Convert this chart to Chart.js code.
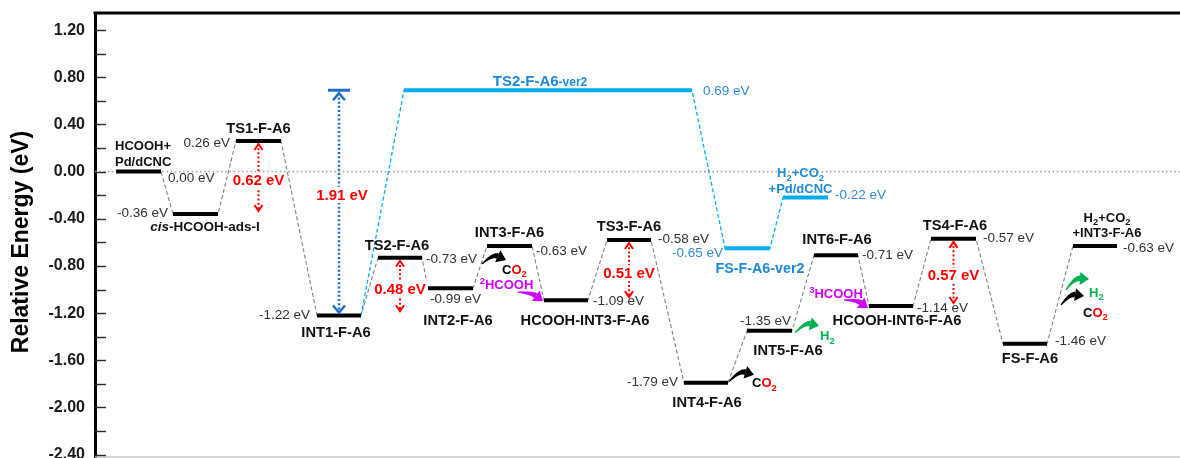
<!DOCTYPE html>
<html>
<head>
<meta charset="utf-8">
<script src="https://cdn.jsdelivr.net/npm/chart.js@4/dist/chart.umd.min.js"></script>
<style>
  html, body { margin: 0; padding: 0; background: #fff; }
  #wrap { width: 1180px; height: 458px; position: relative; }
</style>
</head>
<body>
<div id="wrap"><canvas id="chart"></canvas></div>
<script>
// ---- Reaction path on Pd/dCNC (relative energies in eV) ----
// Markup in names: _x subscript, ^x superscript, *..* italic, {..} smaller text, \n new line
const mainNames = [
  'HCOOH+\nPd/dCNC', '*cis*-HCOOH-ads-I', 'TS1-F-A6', 'INT1-F-A6', 'TS2-F-A6', 'INT2-F-A6',
  'INT3-F-A6', 'HCOOH-INT3-F-A6', 'TS3-F-A6', 'INT4-F-A6', 'INT5-F-A6', 'INT6-F-A6',
  'HCOOH-INT6-F-A6', 'TS4-F-A6', 'FS-F-A6', 'H_2+CO_2\n+INT3-F-A6'
];
const mainEnergies = [0.00, -0.36, 0.26, -1.22, -0.73, -0.99, -0.63, -1.09, -0.58, -1.79, -1.35, -0.71, -1.14, -0.57, -1.46, -0.63];
// span of each level along the reaction coordinate
const mainStart = [2.1, 7.8, 14.1, 22.2, 28.3, 33.3, 39.2, 44.9, 51.2, 58.9, 65.2, 71.9, 77.4, 83.6, 90.8, 97.8];
const mainEnd   = [6.6, 12.3, 18.6, 26.6, 32.7, 37.8, 43.7, 49.3, 55.6, 63.3, 69.7, 76.3, 81.8, 88.1, 95.2, 102.2];

// Alternative branch leaving INT1-F-A6
const altNames = ['TS2-F-A6{-ver2}', 'FS-F-A6-ver2', 'H_2+CO_2\n+Pd/dCNC'];
const altEnergies = [0.69, -0.65, -0.22];
const altStart = [30.9, 63.0, 68.8];
const altEnd   = [59.7, 67.5, 73.3];
const altBranchFrom = 3;

// Barriers: level the barrier hangs from, and its height (eV)
const barrierLevels = [2, 4, 8, 13];
const barrierValues = [0.62, 0.48, 0.51, 0.57];
const altBarrierLevel = 3;     // measured at INT1-F-A6 up to TS2-F-A6-ver2
const altBarrierValue = 1.91;

const yMajorTicks = [1.2, 0.8, 0.4, 0.0, -0.4, -0.8, -1.2, -1.6, -2.0, -2.4];
const yMinorTicks = [1.0, 0.6, 0.2, -0.2, -0.6, -1.0, -1.4, -1.8, -2.2];

// ---- Layout of labels around each level (pixel offsets) ----
// name: [align ('c' centre of level / 'l' from level start), dx, dy]
// energy: [side ('before' ends at start / 'after' starts at end / 'under' starts at start), dx, dy]
const mainNameLayout = [
  ['l', -1, -26], ['c', 9.5, 12], ['c', 0, -13], ['c', -3, 16], ['c', -3, -13], ['c', 7.5, 31.7],
  ['c', 0, -14], ['c', 19, 20], ['c', 0, -14], ['c', 1, 19], ['c', 18.5, 19], ['c', 1, -17],
  ['c', 6, 14], ['c', 1.5, -14], ['c', 5, 14], ['c', 12, -29]
];
const mainEnergyLayout = [
  ['after', 7, 6.6], ['before', -5, -1], ['before', -6, 2], ['before', -7, 0], ['after', 4, 2], ['under', 2, 11],
  ['after', 4, 5.7], ['after', 5, 0.7], ['after', 7, -0.7], ['before', -6, 0], ['under', -7, -9.3], ['after', 4, 0],
  ['after', 4, 2], ['after', 7, -1], ['after', 8, -2.7], ['after', 6, 2.3]
];
const mainNameSize = [13, 13.5, 14.7, 14.7, 14.7, 14.7, 14.7, 14.7, 14.7, 14.7, 14.7, 14.7, 14.7, 14.7, 14.7, 13];
const altNameLayout = [['c', -8, -10], ['c', 12.5, 20], ['c', -5, -25]];
const altEnergyLayout = [['after', 11, 1], ['before', -2, 4.7], ['after', 7, -2.7]];
const altNameSize = [15, 14.3, 13];

// Released / re-adsorbed species with curved arrows, anchored to a level end
const speciesMarks = [
  { level: 6,  at: 'start', formula: 'CO2',    color: '#000',    tail: [-5, 18], tip: [19, 14], bend: 8, text: [15, 23],  align: 'left' },
  { level: 7,  at: 'start', formula: '2HCOOH', color: '#cc00ff', tail: [-26, -8], tip: [-1, 1], bend: 4, text: [-37.5, -16], align: 'center' },
  { level: 9,  at: 'end',   formula: 'CO2',    color: '#000',    tail: [1, -1],  tip: [26, -8], bend: 8, text: [24, 0],   align: 'left' },
  { level: 10, at: 'end',   formula: 'H2',     color: '#00b050', tail: [3, 2],   tip: [27, -5], bend: 7, text: [28, 5],   align: 'left' },
  { level: 12, at: 'start', formula: '3HCOOH', color: '#cc00ff', tail: [-25, -6], tip: [-1, 2], bend: 4, text: [-33, -13], align: 'center' },
  { level: 15, at: 'start', formula: 'H2',     color: '#00b050', tail: [-7, 44], tip: [16, 33], bend: 7, text: [16, 46],  align: 'left' },
  { level: 15, at: 'start', formula: 'CO2',    color: '#000',    tail: [-12, 59], tip: [11, 50], bend: 7, text: [10, 66], align: 'left' }
];

const FONT = '"Liberation Sans", Arial, Helvetica, sans-serif';
const COL = {
  level: '#000000', connector: '#7f7f7f', alt: '#00aeef', altText: '#1e88d3', altEnergy: '#3389cf',
  energy: '#303030', red: '#ff0000', magenta: '#cc00ff', green: '#00b050', gapBlue: '#1f6fc4', zero: '#a8a8a8'
};

// ---- Datasets ----
function levelPoints(starts, ends, energies) {
  const pts = [];
  energies.forEach((e, i) => { pts.push({ x: starts[i], y: e }, { x: ends[i], y: e }, { x: ends[i], y: null }); });
  return pts;
}
function pathPoints(starts, ends, energies) {
  return energies.flatMap((e, i) => [{ x: starts[i], y: e }, { x: ends[i], y: e }]);
}
const altPath = [{ x: mainEnd[altBranchFrom], y: mainEnergies[altBranchFrom] }].concat(pathPoints(altStart, altEnd, altEnergies));

// ---- Text helpers ----
function parseRich(str) {
  const parts = [];
  let italic = false, small = false;
  for (let i = 0; i < str.length; i++) {
    const ch = str[i];
    if (ch === '*') { italic = !italic; continue; }
    if (ch === '{') { small = true; continue; }
    if (ch === '}') { small = false; continue; }
    if (ch === '_' || ch === '^') {
      parts.push({ t: str[i + 1], sub: ch === '_', sup: ch === '^', italic, small });
      i++; continue;
    }
    const last = parts[parts.length - 1];
    if (last && !last.sub && !last.sup && last.italic === italic && last.small === small) last.t += ch;
    else parts.push({ t: ch, italic, small });
  }
  return parts;
}
function drawRich(ctx, parts, x, y, size, align, color, weight) {
  weight = weight || 'bold';
  const fontFor = p => {
    let s = size;
    if (p.small) s = size * 0.8;
    if (p.sub || p.sup) s = size * 0.72;
    return (p.italic ? 'italic ' : '') + weight + ' ' + s + 'px ' + FONT;
  };
  let w = 0;
  parts.forEach(p => { ctx.font = fontFor(p); p.w = ctx.measureText(p.t).width; w += p.w; });
  let cx = align === 'center' ? x - w / 2 : align === 'right' ? x - w : x;
  const base = y + size * 0.36;
  ctx.textAlign = 'left';
  ctx.textBaseline = 'alphabetic';
  parts.forEach(p => {
    ctx.font = fontFor(p);
    ctx.fillStyle = p.c || color;
    let dy = 0;
    if (p.sub) dy = size * 0.26;
    if (p.sup) dy = -size * 0.38;
    ctx.fillText(p.t, cx, base + dy);
    cx += p.w;
  });
  return w;
}
function formulaParts(f, color) {
  if (f === 'CO2') return [{ t: 'C', c: '#000' }, { t: 'O', c: COL.red }, { t: '2', sub: true, c: COL.red }];
  if (f === 'H2') return [{ t: 'H', c: color }, { t: '2', sub: true, c: color }];
  return [{ t: f[0], sup: true, c: color }, { t: f.slice(1), c: color }];
}

// ---- Mark helpers ----
function curvedArrow(ctx, tx, ty, hx, hy, bend, color) {
  const vx = hx - tx, vy = hy - ty, len = Math.hypot(vx, vy);
  const nx = vy / len, ny = -vx / len;
  const cx = (tx + hx) / 2 + nx * bend, cy = (ty + hy) / 2 + ny * bend;
  let dx = hx - cx, dy = hy - cy;
  const dl = Math.hypot(dx, dy); dx /= dl; dy /= dl;
  const headLen = 9, headHalf = 6.5;
  const neckX = hx - dx * headLen, neckY = hy - dy * headLen;
  const N = 24, left = [], right = [];
  for (let i = 0; i <= N; i++) {
    const t = i / N, a = (1 - t) * (1 - t), b = 2 * (1 - t) * t, c = t * t;
    const px = a * tx + b * cx + c * neckX, py = a * ty + b * cy + c * neckY;
    const gx = 2 * (1 - t) * (cx - tx) + 2 * t * (neckX - cx);
    const gy = 2 * (1 - t) * (cy - ty) + 2 * t * (neckY - cy);
    const gl = Math.hypot(gx, gy) || 1;
    const w = 0.6 + 2.4 * t;
    const ox = -gy / gl * w, oy = gx / gl * w;
    left.push([px + ox, py + oy]); right.push([px - ox, py - oy]);
  }
  ctx.fillStyle = color;
  ctx.beginPath();
  left.forEach((p, i) => i ? ctx.lineTo(p[0], p[1]) : ctx.moveTo(p[0], p[1]));
  for (let i = right.length - 1; i >= 0; i--) ctx.lineTo(right[i][0], right[i][1]);
  ctx.closePath(); ctx.fill();
  ctx.beginPath();
  ctx.moveTo(hx, hy);
  ctx.lineTo(neckX - dy * headHalf, neckY + dx * headHalf);
  ctx.lineTo(neckX + dy * headHalf, neckY - dx * headHalf);
  ctx.closePath(); ctx.fill();
}
function chevron(ctx, x, y, dir, half, h) {
  // dir -1: pointing up, +1: pointing down; (x, y) is the tip
  ctx.beginPath();
  ctx.moveTo(x - half, y - dir * h);
  ctx.lineTo(x, y);
  ctx.lineTo(x + half, y - dir * h);
  ctx.stroke();
}
function gapArrow(ctx, x, yTop, yBot, color, cap) {
  ctx.save();
  ctx.strokeStyle = color;
  ctx.lineWidth = cap ? 2.5 : 2;
  ctx.setLineDash([2, 2.2]);
  ctx.beginPath(); ctx.moveTo(x, yTop + 3); ctx.lineTo(x, yBot - 3); ctx.stroke();
  ctx.setLineDash([]);
  ctx.lineJoin = 'miter';
  if (cap) {
    ctx.lineWidth = 3;
    ctx.beginPath(); ctx.moveTo(x - 11, yTop); ctx.lineTo(x + 11, yTop); ctx.stroke();
    ctx.lineWidth = 2.5;
    chevron(ctx, x, yTop + 3, -1, 6, 7);
    chevron(ctx, x, yBot - 3, 1, 6, 7);
  } else {
    chevron(ctx, x, yTop + 3, -1, 4, 6);
    chevron(ctx, x, yBot - 3, 1, 4, 6);
  }
  ctx.restore();
}
function gapLabel(ctx, text, x, y, color) {
  ctx.font = 'bold 15px ' + FONT;
  const w = ctx.measureText(text).width;
  ctx.fillStyle = '#fff';
  ctx.fillRect(x - w / 2 - 2, y - 8, w + 4, 16);
  ctx.fillStyle = color;
  ctx.textAlign = 'center';
  ctx.textBaseline = 'middle';
  ctx.fillText(text, x, y + 0.5);
}

// ---- Plugin drawing annotations, frame and ticks ----
const diagramPlugin = {
  id: 'diagram',
  beforeDatasetsDraw(chart) {
    const { ctx, chartArea: a, scales: { y } } = chart;
    const y0 = y.getPixelForValue(0);
    ctx.save();
    ctx.strokeStyle = COL.zero;
    ctx.lineWidth = 1.6;
    ctx.setLineDash([1.6, 2.6]);
    ctx.beginPath(); ctx.moveTo(a.left, y0); ctx.lineTo(a.right, y0); ctx.stroke();
    ctx.restore();
  },
  afterDatasetsDraw(chart) {
    const { ctx, chartArea: a, scales: { x, y } } = chart;
    ctx.save();

    // frame: top rule and light bottom rule
    ctx.strokeStyle = '#000'; ctx.lineWidth = 3;
    ctx.beginPath(); ctx.moveTo(a.left - 1.5, a.top); ctx.lineTo(a.right, a.top); ctx.stroke();
    ctx.strokeStyle = '#c8c8c8'; ctx.lineWidth = 1.5;
    ctx.beginPath(); ctx.moveTo(a.left, a.bottom); ctx.lineTo(a.right, a.bottom); ctx.stroke();

    // inward tick marks
    ctx.strokeStyle = '#2a2a2a'; ctx.lineWidth = 1.4;
    yMajorTicks.concat(yMinorTicks).forEach(v => {
      const py = Math.round(y.getPixelForValue(v)) + 0.5;
      ctx.beginPath(); ctx.moveTo(a.left, py); ctx.lineTo(a.left + 11, py); ctx.stroke();
    });

    // axis title
    ctx.save();
    ctx.translate(22, 242);
    ctx.rotate(-Math.PI / 2);
    ctx.font = 'bold 23px ' + FONT;
    ctx.fillStyle = '#000';
    ctx.textAlign = 'center'; ctx.textBaseline = 'middle';
    ctx.fillText('Relative Energy (eV)', 0, 0);
    ctx.restore();

    const geom = (starts, ends, energies, i) => ({
      x0: x.getPixelForValue(starts[i]), x1: x.getPixelForValue(ends[i]),
      xc: (x.getPixelForValue(starts[i]) + x.getPixelForValue(ends[i])) / 2,
      y: y.getPixelForValue(energies[i])
    });

    function labelLevels(names, starts, ends, energies, nameLayout, energyLayout, sizes, nameColor, energyColor) {
      names.forEach((name, i) => {
        const g = geom(starts, ends, energies, i);
        const [al, ndx, ndy] = nameLayout[i];
        const lines = name.split('\n');
        lines.forEach((ln, k) => {
          const px = al === 'l' ? g.x0 + ndx : g.xc + ndx;
          drawRich(ctx, parseRich(ln), px, g.y + ndy + k * 15.5, sizes[i], al === 'l' ? 'left' : 'center', nameColor);
        });
        const [side, edx, edy] = energyLayout[i];
        const txt = energies[i].toFixed(2) + ' eV';
        ctx.font = '13.5px ' + FONT;
        ctx.fillStyle = energyColor;
        ctx.textBaseline = 'middle';
        if (side === 'before') { ctx.textAlign = 'right'; ctx.fillText(txt, g.x0 + edx, g.y + edy); }
        else if (side === 'after') { ctx.textAlign = 'left'; ctx.fillText(txt, g.x1 + edx, g.y + edy); }
        else { ctx.textAlign = 'left'; ctx.fillText(txt, g.x0 + edx, g.y + edy); }
      });
    }
    labelLevels(mainNames, mainStart, mainEnd, mainEnergies, mainNameLayout, mainEnergyLayout, mainNameSize, '#111', COL.energy);
    labelLevels(altNames, altStart, altEnd, altEnergies, altNameLayout, altEnergyLayout, altNameSize, COL.altText, COL.altEnergy);

    // barrier arrows
    barrierLevels.forEach((li, k) => {
      const g = geom(mainStart, mainEnd, mainEnergies, li);
      const yb = y.getPixelForValue(mainEnergies[li] - barrierValues[k]);
      gapArrow(ctx, g.xc, g.y, yb, COL.red, false);
      gapLabel(ctx, barrierValues[k].toFixed(2) + ' eV', g.xc, (g.y + yb) / 2 + 3, COL.red);
    });
    {
      const g = geom(mainStart, mainEnd, mainEnergies, altBarrierLevel);
      const yt = y.getPixelForValue(mainEnergies[altBarrierLevel] + altBarrierValue);
      gapArrow(ctx, g.xc, yt, g.y, COL.gapBlue, true);
      gapLabel(ctx, altBarrierValue.toFixed(2) + ' eV', g.xc + 3, (yt + g.y) / 2 - 8, COL.red);
    }

    // released species
    speciesMarks.forEach(m => {
      const g = geom(mainStart, mainEnd, mainEnergies, m.level);
      const ax = m.at === 'start' ? g.x0 : g.x1, ay = g.y;
      curvedArrow(ctx, ax + m.tail[0], ay + m.tail[1], ax + m.tip[0], ay + m.tip[1], m.bend, m.color);
      drawRich(ctx, formulaParts(m.formula, m.color), ax + m.text[0], ay + m.text[1], 13, m.align, m.color);
    });

    ctx.restore();
  }
};

new Chart(document.getElementById('chart'), {
  type: 'line',
  data: {
    datasets: [
      { label: 'levels', data: levelPoints(mainStart, mainEnd, mainEnergies), borderColor: COL.level, borderWidth: 4,
        borderCapStyle: 'butt', pointRadius: 0, spanGaps: false, order: 1 },
      { label: 'alt levels', data: levelPoints(altStart, altEnd, altEnergies), borderColor: COL.alt, borderWidth: 4,
        borderCapStyle: 'butt', pointRadius: 0, spanGaps: false, order: 1 },
      { label: 'path', data: pathPoints(mainStart, mainEnd, mainEnergies), borderColor: COL.connector, borderWidth: 1.1,
        borderDash: [4, 2.5], pointRadius: 0, order: 3 },
      { label: 'alt path', data: altPath, borderColor: COL.alt, borderWidth: 1.3,
        borderDash: [4, 2.5], pointRadius: 0, order: 2 }
    ]
  },
  options: {
    responsive: true,
    maintainAspectRatio: false,
    animation: false,
    events: [],
    layout: { padding: { top: 13, bottom: 1, left: 0, right: 0 } },
    plugins: { legend: { display: false }, tooltip: { enabled: false } },
    elements: { line: { tension: 0 } },
    scales: {
      x: { type: 'linear', min: 0, max: 108.5, display: false },
      y: {
        min: -2.42, max: 1.345,
        grid: { display: false, drawTicks: false },
        border: { display: true, width: 3, color: '#000' },
        afterFit(scale) { scale.width = 95; scale.paddingTop = 0; scale.paddingBottom = 0; },
        afterBuildTicks(scale) { scale.ticks = yMajorTicks.map(v => ({ value: v })); },
        ticks: {
          autoSkip: false, padding: 10, color: '#1a1a1a',
          font: { family: FONT, size: 16, weight: 'bold' },
          callback: v => Number(v).toFixed(2)
        }
      }
    }
  },
  plugins: [diagramPlugin]
});
</script>
</body>
</html>
